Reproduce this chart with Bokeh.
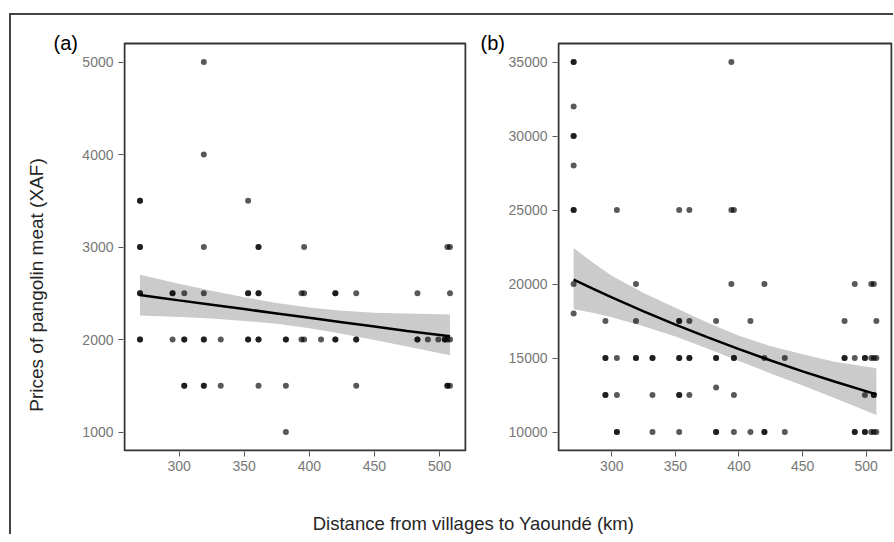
import math
from bokeh.plotting import figure
from bokeh.layouts import row, column
from bokeh.models import Range1d, Label, FixedTicker
from bokeh.embed import file_html
from bokeh.resources import INLINE

FONT = "Liberation Sans"

# ---------------- data ----------------
tick_x = [300, 350, 400, 450, 500]
tick_a = [1000, 2000, 3000, 4000, 5000]
tick_b = [10000, 15000, 20000, 25000, 30000, 35000]

# panel (a): pangolin meat prices per village distance (duplicates = overlapping dots)
a_dist = ([270] * 8 + [295] * 3 + [304] * 5 + [319] * 8 + [332] * 2 + [353] * 5 +
          [361] * 7 + [382] * 4 + [394] * 2 + [396] * 3 + [409] + [420] * 4 +
          [436] * 4 + [483] * 3 + [491] + [499] + [504] * 2 + [506] * 4 + [508] * 4)
a_price = [3500, 3500, 3000, 3000, 2500, 2500, 2000, 2000,
           2500, 2500, 2000,
           2500, 2000, 2000, 1500, 1500,
           5000, 4000, 3000, 2500, 2000, 2000, 1500, 1500,
           2000, 1500,
           3500, 2500, 2500, 2000, 2000,
           3000, 3000, 2500, 2500, 2000, 2000, 1500,
           2000, 2000, 1500, 1000,
           2500, 2000,
           3000, 2500, 2000,
           2000,
           2500, 2500, 2000, 2000,
           2500, 2000, 2000, 1500,
           2500, 2000, 2000,
           2000,
           2000,
           2000, 2000,
           3000, 2000, 1500, 1500,
           3000, 2500, 2000, 1500]

# panel (b)
b_dist = ([270] * 10 + [295] * 5 + [304] * 5 + [319] * 4 + [332] * 4 + [353] * 8 +
          [361] * 5 + [382] * 6 + [394] * 3 + [396] * 5 + [409] * 2 + [420] * 4 +
          [436] * 2 + [483] * 3 + [491] * 4 + [499] * 5 + [504] * 3 + [506] * 5 + [508] * 3)
b_price = [35000, 35000, 32000, 30000, 30000, 28000, 25000, 25000, 20000, 18000,
           17500, 15000, 15000, 12500, 12500,
           25000, 15000, 12500, 10000, 10000,
           20000, 17500, 15000, 15000,
           15000, 15000, 12500, 10000,
           25000, 17500, 17500, 15000, 15000, 12500, 12500, 10000,
           25000, 17500, 15000, 15000, 12500,
           17500, 15000, 15000, 13000, 10000, 10000,
           35000, 25000, 20000,
           25000, 15000, 15000, 12500, 10000,
           17500, 10000,
           20000, 15000, 10000, 10000,
           15000, 10000,
           17500, 15000, 15000,
           20000, 15000, 10000, 10000,
           15000, 15000, 12500, 10000, 10000,
           20000, 15000, 10000,
           20000, 15000, 12500, 12500, 10000,
           17500, 15000, 10000]

# fitted lines and confidence bands
fit_x = [270, 285, 300, 325, 350, 375, 400, 425, 450, 475, 508]
fit_a = [2480, 2452, 2423, 2376, 2329, 2282, 2234, 2187, 2140, 2093, 2035]
fit_a_lo = [2260, 2252, 2243, 2226, 2201, 2169, 2122, 2062, 1995, 1925, 1830]
fit_a_hi = [2700, 2652, 2603, 2526, 2457, 2395, 2346, 2312, 2290, 2280, 2270]
fit_b = [20290, 19680, 19090, 18150, 17260, 16410, 15600, 14830, 14100, 13410, 12540]
fit_b_lo = [18300, 18050, 17750, 17150, 16450, 15650, 14800, 13950, 13150, 12300, 11150]
fit_b_hi = [22430, 21450, 20550, 19400, 18400, 17400, 16500, 15800, 15250, 14750, 14300]

x_lim = (258.1, 519.9)
y_lim_a = (800, 5200)
y_lim_b = (8750, 36250)

y_title = "Prices of pangolin meat (XAF)"
x_title = "Distance from villages to Yaoundé (km)"

# ---------------- drawing ----------------
ROW_H = 470
B_TOP, B_BOT = 28, 35   # where the panel borders sit inside the row
FR_TOP = 14             # plot frames (aligned across the row) start higher, leaving room for "(a)"/"(b)"
PAD = 1                 # frame extends 1px beyond the panel border on the other sides


def text_strip(w, h, y0, y1):
    f = figure(width=w, height=h, x_range=Range1d(0, w), y_range=Range1d(y0, y1),
               output_backend="svg", toolbar_location=None,
               x_axis_location=None, y_axis_location=None,
               min_border_left=0, min_border_right=0,
               min_border_top=0, min_border_bottom=0)
    f.xgrid.visible = False
    f.ygrid.visible = False
    f.outline_line_color = None
    return f


def panel(w, bl, br, yl, yticks, dist, price, fy, flo, fhi):
    # panel border box (in px) -> extended data ranges for the slightly larger frame
    box_w = w - bl - br
    box_h = ROW_H - B_TOP - B_BOT
    sx = (x_lim[1] - x_lim[0]) / box_w
    sy = (yl[1] - yl[0]) / box_h
    xr = Range1d(x_lim[0] - PAD * sx, x_lim[1] + PAD * sx)
    yr = Range1d(yl[0] - PAD * sy, yl[1] + (B_TOP - FR_TOP) * sy)
    p = figure(width=w, height=ROW_H, x_range=xr, y_range=yr,
               output_backend="svg", toolbar_location=None,
               min_border_left=bl - PAD, min_border_right=br - PAD,
               min_border_top=FR_TOP, min_border_bottom=B_BOT - PAD)
    p.xgrid.visible = False
    p.ygrid.visible = False
    p.outline_line_color = None
    p.varea(x=fit_x, y1=flo, y2=fhi, fill_color="#cbcbcb")
    p.scatter(dist, price, size=6, fill_color="black", fill_alpha=0.65, line_color=None)
    p.line(fit_x, fy, line_width=2.5, line_color="black")
    # panel border at the panel's limits
    p.quad(left=[x_lim[0]], right=[x_lim[1]], bottom=[yl[0]], top=[yl[1]],
           fill_color=None, line_color="#333333", line_alpha=1.0, line_width=2)
    p.xaxis.ticker = FixedTicker(ticks=tick_x)
    p.yaxis.ticker = FixedTicker(ticks=yticks)
    for ax in (p.xaxis[0], p.yaxis[0]):
        ax.axis_line_color = None
        ax.major_tick_line_color = "#555555"
        ax.major_tick_out = 4 + PAD
        ax.major_tick_in = 0
        ax.minor_tick_line_color = None
        ax.major_label_text_font = FONT
        ax.major_label_text_font_size = "14px"
        ax.major_label_text_color = "#777777"
    p.xaxis.major_label_standoff = 4
    p.yaxis.major_label_standoff = 5
    return p


# strips inside the row: data y = pixels measured up from the bottom of the row
sy0, sy1 = B_BOT - PAD, ROW_H - FR_TOP
p0 = text_strip(68, ROW_H, sy0, sy1)
p0.min_border_top = FR_TOP
p0.min_border_bottom = B_BOT - PAD
p0.add_layout(Label(x=25, y=200.5, text=y_title, angle=math.pi / 2, text_align="center",
                    text_baseline="middle", text_font=FONT, text_font_size="19px",
                    text_color="#262626"))
p0.add_layout(Label(x=42, y=442.5, text="(a)", text_align="left", text_baseline="middle",
                    text_font=FONT, text_font_size="20px", text_color="black"))

p1 = panel(398, 43, 12, y_lim_a, tick_a, a_dist, a_price, fit_a, fit_a_lo, fit_a_hi)

pB = text_strip(28, ROW_H, sy0, sy1)
pB.min_border_top = FR_TOP
pB.min_border_bottom = B_BOT - PAD
pB.add_layout(Label(x=3, y=442.5, text="(b)", text_align="left", text_baseline="middle",
                    text_font=FONT, text_font_size="20px", text_color="black"))

p2 = panel(388, 51, 2, y_lim_b, tick_b, b_dist, b_price, fit_b, fit_b_lo, fit_b_hi)

p3 = text_strip(882, 49, 0, 49)
p3.add_layout(Label(x=462, y=11, text=x_title, text_align="center", text_baseline="middle",
                    text_font=FONT, text_font_size="18.5px", text_color="#262626"))

layout = column(row(p0, p1, pB, p2), p3,
                styles={"border-left": "2px solid #444444", "border-top": "2px solid #444444",
                        "margin-left": "9px", "margin-top": "13px"})

open("out.html", "w").write(file_html(layout, INLINE))
